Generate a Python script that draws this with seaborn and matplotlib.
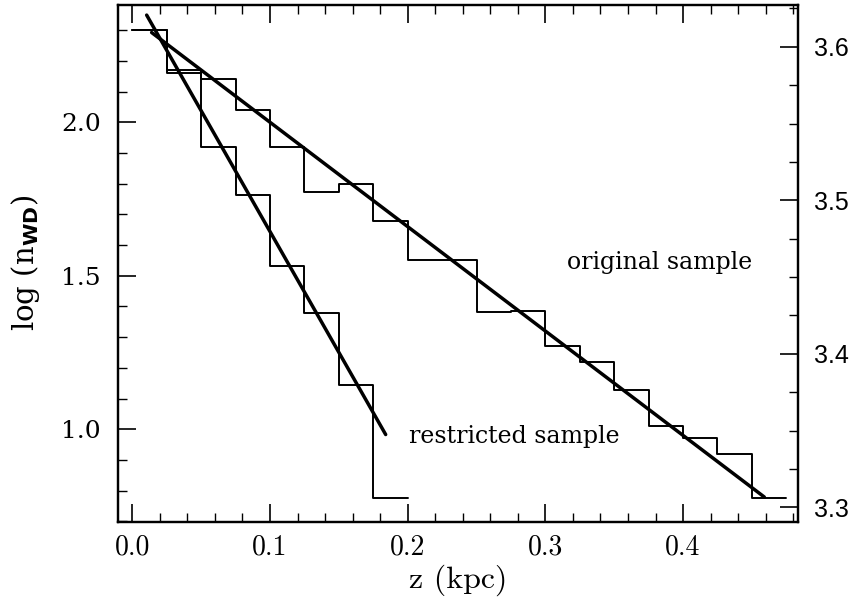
import numpy as np
import pandas as pd
import matplotlib
matplotlib.use("Agg")
import matplotlib.pyplot as plt
from matplotlib.ticker import MultipleLocator
import seaborn as sns

sns.set_theme(style="white")
plt.rcParams['font.family'] = ['DejaVu Serif']
plt.rcParams.update({"text.color": "black", "axes.labelcolor": "black",
                     "xtick.color": "black", "ytick.color": "black",
                     "axes.edgecolor": "black"})

# ---- data ----
bin_edges_orig = [0.0, 0.025, 0.05, 0.075, 0.1, 0.125, 0.15, 0.175, 0.2, 0.225,
                  0.25, 0.275, 0.3, 0.325, 0.35, 0.375, 0.4, 0.425, 0.45, 0.475]
logn_orig = [2.30, 2.17, 2.14, 2.04, 1.92, 1.773, 1.80, 1.678, 1.553, 1.553,
             1.381, 1.385, 1.270, 1.218, 1.128, 1.012, 0.972, 0.920, 0.776]

bin_edges_restr = [0.0, 0.025, 0.05, 0.075, 0.1, 0.125, 0.15, 0.175, 0.2]
logn_restr = [2.30, 2.16, 1.92, 1.764, 1.531, 1.380, 1.144, 0.776]

fit_orig_intercept, fit_orig_slope = 2.340, -3.40
fit_orig_zrange = [0.014, 0.459]
fit_restr_intercept, fit_restr_slope = 2.431, -7.87
fit_restr_zrange = [0.0104, 0.184]

xticks = [0.0, 0.1, 0.2, 0.3, 0.4]
yticks_left = [1.0, 1.5, 2.0]
yticks_right = [3.3, 3.4, 3.5, 3.6]

# ---- figure ----
W, H = 858, 606
L, R, T, B = 118.3, 798.3, 4.7, 521.7
fig = plt.figure(figsize=(8.58, 6.06), dpi=100)
ax = fig.add_axes([L/W, 1 - B/H, (R-L)/W, (B-T)/H])

def step_df(edges, vals):
    return pd.DataFrame({"z": edges, "v": list(vals) + [vals[-1]]})

d1 = step_df(bin_edges_orig, logn_orig)
d2 = step_df(bin_edges_restr, logn_restr)
sns.lineplot(data=d1, x="z", y="v", drawstyle="steps-post", estimator=None,
             color="black", lw=1.4, ax=ax)
sns.lineplot(data=d2, x="z", y="v", drawstyle="steps-post", estimator=None,
             color="black", lw=1.4, ax=ax)

zf1 = np.array(fit_orig_zrange)
zf2 = np.array(fit_restr_zrange)
sns.lineplot(x=zf1, y=fit_orig_intercept + fit_orig_slope * zf1, color="black",
             lw=2.5, estimator=None, ax=ax)
sns.lineplot(x=zf2, y=fit_restr_intercept + fit_restr_slope * zf2, color="black",
             lw=2.5, estimator=None, ax=ax)

ylo, yhi = 0.699, 2.383
ax.set_xlim(-0.0102, 0.4837)
ax.set_ylim(ylo, yhi)

ax.set_xticks(xticks)
ax.set_xticklabels([f"{t:.1f}" for t in xticks], family="cmr10", fontsize=20)
ax.xaxis.set_minor_locator(MultipleLocator(0.02))
ax.set_yticks(yticks_left)
ax.set_yticklabels([f"{t:.1f}" for t in yticks_left], fontsize=18)
ax.yaxis.set_minor_locator(MultipleLocator(0.1))

ax.tick_params(axis="x", which="both", direction="in", top=True, bottom=True)
ax.tick_params(axis="y", which="both", direction="in", left=True, right=False)
ax.tick_params(which="major", length=13, width=1.2)
ax.tick_params(which="minor", length=6.5, width=1.0)
ax.tick_params(axis="x", which="major", pad=9)
ax.tick_params(axis="y", which="major", pad=12.5)

for s in ax.spines.values():
    s.set_linewidth(1.6)
    s.set_color("black")

ax.set_xlabel("z (kpc)", family="cmr10", fontsize=23)
ax.xaxis.set_label_coords(0.5, -(565 - B) / (B - T))
ax.set_ylabel(r"log (n$_{\mathbf{WD}}$)", fontsize=21)
ax.yaxis.set_label_coords((42 - L) / (R - L), 0.5)

ax.text(0.383, 1.542, "original sample", fontsize=17, ha="center", va="center")
ax.text(0.2775, 0.977, "restricted sample", fontsize=17, ha="center", va="center")

# right axis: linear rescaling of the left axis
def to_right(v):
    return 3.6 + (v - 2.246) * 0.2

ax2 = ax.twinx()
ax2.set_ylim(to_right(ylo), to_right(yhi))
ax2.set_yticks(yticks_right)
ax2.set_yticklabels([f"{t:.1f}" for t in yticks_right], fontsize=18,
                    family="Liberation Sans")
ax2.yaxis.set_minor_locator(MultipleLocator(0.025))
ax2.tick_params(axis="y", which="both", direction="in", right=True, left=False)
ax2.tick_params(which="major", length=13, width=1.2, pad=11)
ax2.tick_params(which="minor", length=6.5, width=1.0)
ax2.grid(False)
ax.grid(False)
for s in ax2.spines.values():
    s.set_linewidth(1.6)
    s.set_color("black")

fig.savefig("out.png", dpi=100)
